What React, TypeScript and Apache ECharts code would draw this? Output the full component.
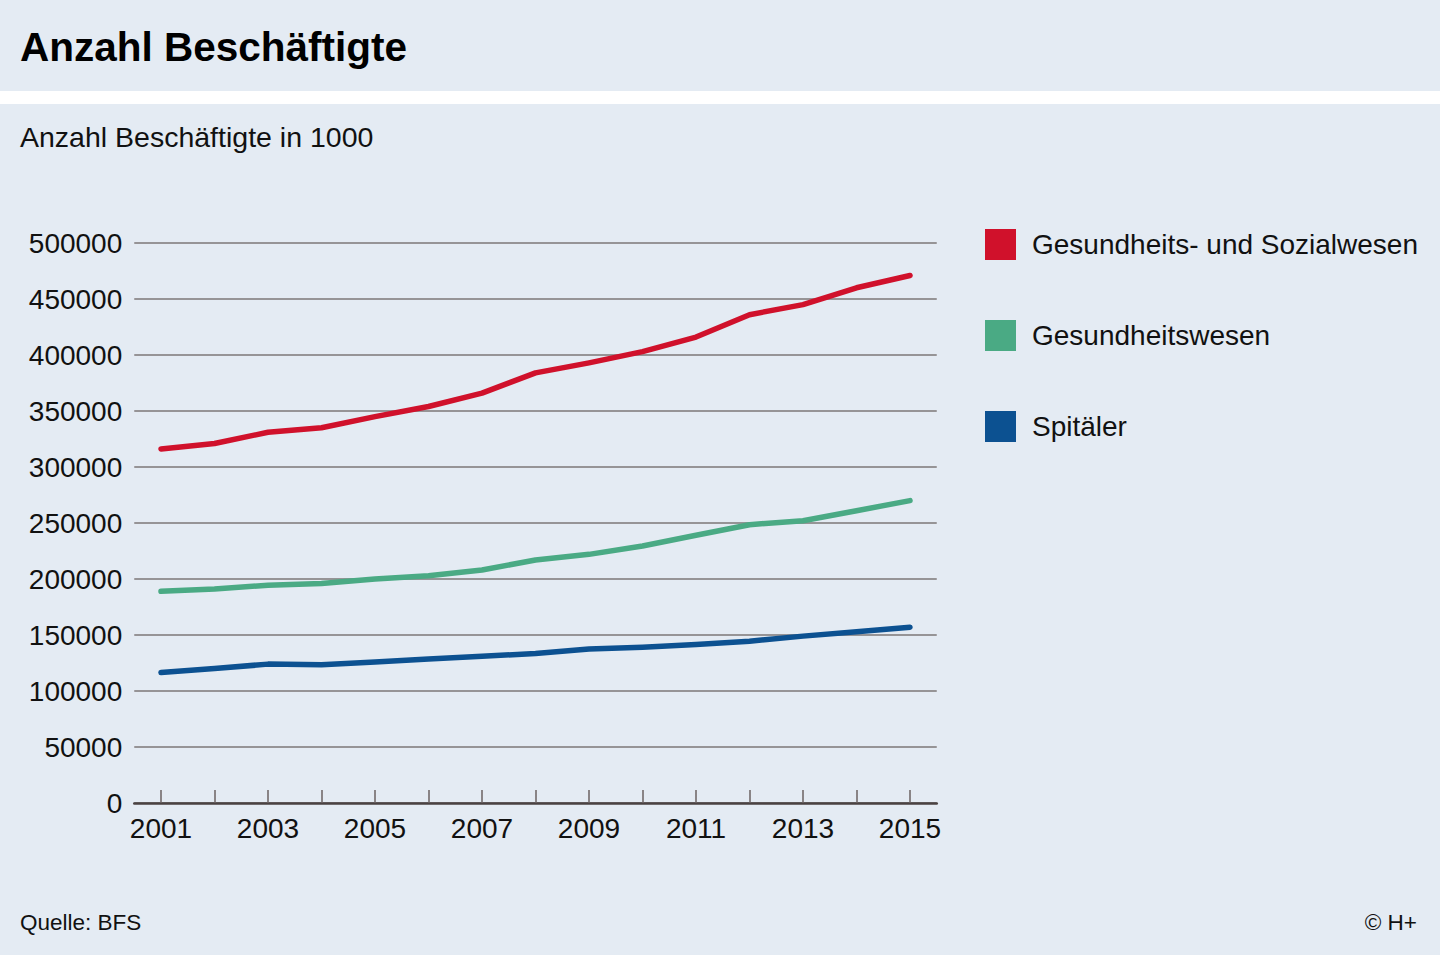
import React, { useEffect, useRef } from "react";
import * as echarts from "echarts";

const years = ["2001", "2002", "2003", "2004", "2005", "2006", "2007", "2008", "2009", "2010", "2011", "2012", "2013", "2014", "2015"];
const sozialwesen = [316000, 321000, 331000, 335000, 345000, 354000, 366000, 384000, 393000, 403000, 416000, 436000, 445000, 460000, 471000];
const gesundheitswesen = [189000, 191000, 194500, 196000, 200000, 203000, 208000, 217000, 222000, 229500, 239000, 248500, 252000, 261000, 270000];
const spitaeler = [116500, 120000, 124000, 123500, 126000, 128500, 131000, 133500, 137500, 139000, 141500, 144500, 149000, 153000, 157000];
const seriesNames = ["Gesundheits- und Sozialwesen", "Gesundheitswesen", "Spitäler"];
const seriesColors = ["#d0112b", "#4aaa84", "#0c5191"];

const BG = "#e4ebf3";
const FONT = "Liberation Sans, Arial, Helvetica, sans-serif";

export default function App() {
  const ref = useRef<HTMLDivElement>(null);
  useEffect(() => {
    if (!ref.current) return;
    const chart = echarts.init(ref.current, undefined, { renderer: "svg" });
    const values = [sozialwesen, gesundheitswesen, spitaeler];
    chart.setOption({
      animation: false,
      backgroundColor: BG,
      textStyle: { fontFamily: FONT },
      graphic: [
        { type: "rect", shape: { x: 0, y: 91, width: 1440, height: 13 }, style: { fill: "#ffffff" } },
        {
          type: "text",
          x: 20,
          y: 47,
          style: { text: "Anzahl Beschäftigte", font: `bold 40.5px ${FONT}`, fill: "#000000", verticalAlign: "middle" },
        },
        {
          type: "text",
          x: 20,
          y: 137,
          style: { text: "Anzahl Beschäftigte in 1000", font: `28.5px ${FONT}`, fill: "#111111", verticalAlign: "middle" },
        },
        {
          type: "text",
          x: 20,
          y: 922,
          style: { text: "Quelle: BFS", font: `22.5px ${FONT}`, fill: "#111111", verticalAlign: "middle" },
        },
        {
          type: "text",
          x: 1417,
          y: 922,
          style: { text: "© H+", font: `22.5px ${FONT}`, fill: "#111111", verticalAlign: "middle", align: "right" },
        },
      ],
      legend: {
        orient: "vertical",
        left: 985,
        top: 229,
        padding: 0,
        icon: "rect",
        itemWidth: 31,
        itemHeight: 31,
        itemGap: 60,
        data: seriesNames,
        itemStyle: { borderWidth: 0 },
        textStyle: { fontSize: 28, color: "#111111", fontFamily: FONT, padding: [0, 0, 0, 11] },
        selectedMode: false,
      },
      grid: { left: 134.25, right: 503.25, top: 243, bottom: 152, containLabel: false },
      xAxis: {
        type: "category",
        data: years,
        boundaryGap: true,
        axisLine: { show: true, lineStyle: { color: "#4a4242", width: 2.5 } },
        axisTick: { show: true, inside: true, length: 13, alignWithLabel: true, interval: 0, lineStyle: { color: "#6b6262", width: 1.5 } },
        axisLabel: { interval: 1, fontSize: 28, color: "#111111", margin: 11, fontFamily: FONT },
        splitLine: { show: false },
      },
      yAxis: {
        type: "value",
        min: 0,
        max: 500000,
        interval: 50000,
        axisLine: { show: false },
        axisTick: { show: false },
        axisLabel: { fontSize: 28, color: "#111111", margin: 12, fontFamily: FONT, padding: [6, 0, 0, 0], formatter: (v: number) => String(v) },
        splitLine: { show: true, lineStyle: { color: "#7d7777", width: 1.6 } },
      },
      series: seriesNames.map((name, i) => ({
        name,
        type: "line",
        data: values[i],
        symbol: "none",
        showSymbol: false,
        color: seriesColors[i],
        itemStyle: { color: seriesColors[i] },
        lineStyle: { color: seriesColors[i], width: 5.5, cap: "round", join: "round" },
        z: 3 + i,
      })),
    });
    return () => chart.dispose();
  }, []);
  return <div ref={ref} style={{ position: "absolute", left: 0, top: 0, width: 1440, height: 955 }} />;
}
